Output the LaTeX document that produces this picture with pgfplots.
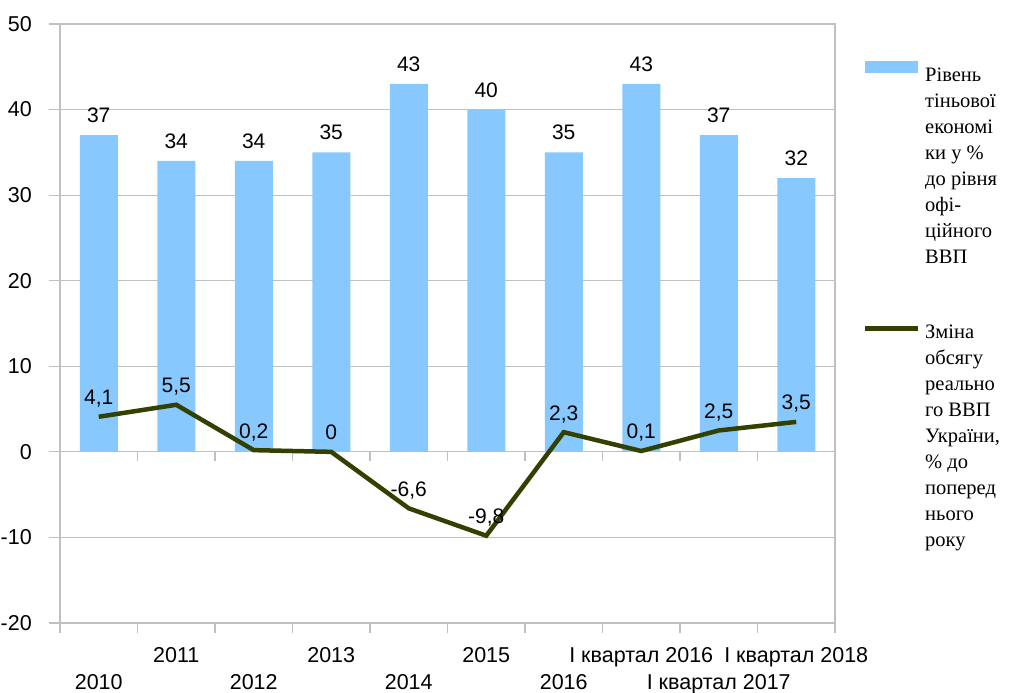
\documentclass[border=0pt]{standalone}
\usepackage{fontspec}
\setmainfont{Liberation Sans}
\newfontfamily\legendfont{Liberation Serif}
\usepackage{pgfplots}
\pgfplotsset{compat=1.18}
\definecolor{barblue}{RGB}{135,201,255}
\definecolor{olivel}{RGB}{51,64,0}
\definecolor{gridgray}{RGB}{192,192,192}

\pgfplotstableread{
x y
0 37
1 34
2 34
3 35
4 43
5 40
6 35
7 43
8 37
9 32
}\shadow

\pgfplotstableread{
x y lab
0 4.1 4,1
1 5.5 5,5
2 0.2 0,2
3 0 0
4 -6.6 -6,6
5 -9.8 -9,8
6 2.3 2,3
7 0.1 0,1
8 2.5 2,5
9 3.5 3,5
}\gdp

\begin{document}
\begin{tikzpicture}[x=1pt,y=1pt]
\useasboundingbox (0,0) rectangle (1009,693);
\begin{axis}[
  at={(60pt,70pt)}, anchor=south west,
  scale only axis, width=775pt, height=599pt,
  xmin=-0.5, xmax=9.5, ymin=-20, ymax=50,
  ytick={-20,-10,...,50},
  ymajorgrids, grid style={gridgray, line width=1.2pt},
  axis line style={gridgray, line width=1.2pt},
  tick style={gridgray, line width=1.2pt},
  tick align=outside, major tick length=11pt,
  ytick pos=left, xtick pos=left,
  xtick style={draw=none},
  /pgf/number format/assume math mode=true,
  ticklabel style={font=\fontsize{21.5}{25}\selectfont, text=black},
  yticklabel style={anchor=east, inner sep=0pt, xshift=-17pt},
  xtick={0,...,9},
  xticklabels={{\raisebox{-27pt}{2010}},2011,{\raisebox{-27pt}{2012}},2013,{\raisebox{-27pt}{2014}},2015,{\raisebox{-27pt}{2016}},І квартал 2016,{\raisebox{-27pt}{І квартал 2017}},І квартал 2018},
  xticklabel style={anchor=base, inner sep=0pt, yshift=-29pt},
  every node near coord/.append style={font=\fontsize{21}{25}\selectfont, text=black, anchor=base, inner sep=0pt},
  clip=false,
]
\pgfplotsinvokeforeach{-0.5,0.5,...,9.5}{
  \draw[gridgray, line width=1.2pt] (axis cs:#1,0) -- ++(0pt,-9pt);
  \draw[gridgray, line width=1.2pt] (axis cs:#1,-20) -- ++(0pt,-10pt);
}
\addplot[ybar, bar width=38pt, fill=barblue, draw=none,
  nodes near coords, point meta=y,
  every node near coord/.append style={yshift=12.5pt}] table[x=x,y=y] {\shadow};
\addplot[olivel, line width=4.5pt, mark=none, line join=miter,
  nodes near coords, point meta=explicit symbolic,
  every node near coord/.append style={yshift=12pt}] table[x=x,y=y,meta=lab] {\gdp};
\end{axis}
% legend
\fill[barblue] (865,620) rectangle (918,632);
\draw[olivel, line width=5pt] (865,364) -- (918,364);
\foreach \t [count=\i] in {Рівень,тіньової,економі,ки у \%,до рівня,офі-,ційного,ВВП}
  \node[anchor=base west, inner sep=0pt, font=\legendfont\fontsize{20.5}{26}\selectfont] at (925,{611-26*(\i-1)}) {\t};
\foreach \t [count=\i] in {Зміна,обсягу,реально,го ВВП,{України,},\% до,поперед,нього,року}
  \node[anchor=base west, inner sep=0pt, font=\legendfont\fontsize{20.5}{26}\selectfont] at (925,{354-26*(\i-1)}) {\t};
\end{tikzpicture}
\end{document}
